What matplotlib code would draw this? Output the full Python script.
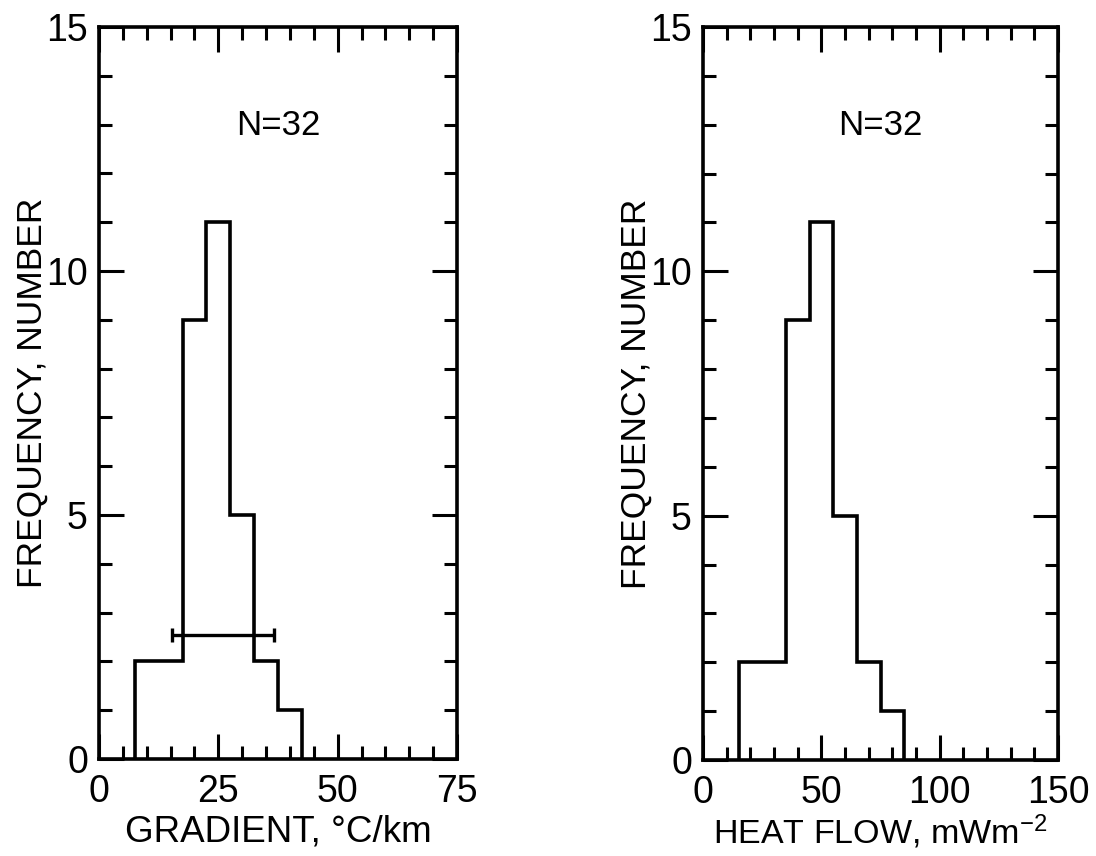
import matplotlib
matplotlib.use("Agg")
import matplotlib.pyplot as plt
from matplotlib.ticker import MultipleLocator

plt.rcParams['font.family'] = ['Liberation Sans', 'DejaVu Sans']
plt.rcParams['mathtext.default'] = 'regular'

# gradient histogram (deg C / km)
grad_edges = [7.5, 12.5, 17.5, 22.5, 27.5, 32.5, 37.5, 42.5]
grad_counts = [2, 2, 9, 11, 5, 2, 1]
grad_mean = 26.0
grad_sd = 10.7
grad_bar_y = 2.55

# heat flow histogram (mW m^-2)
hf_edges = [15, 25, 35, 45, 55, 65, 75, 85]
hf_counts = [2, 2, 9, 11, 5, 2, 1]

n_label = 'N=32'

LW = 2.6


def style(ax, xmax, xmajor, xminor):
    ax.set_xlim(0, xmax)
    ax.set_ylim(0, 15)
    ax.xaxis.set_major_locator(MultipleLocator(xmajor))
    ax.xaxis.set_minor_locator(MultipleLocator(xminor))
    ax.yaxis.set_major_locator(MultipleLocator(5))
    ax.yaxis.set_minor_locator(MultipleLocator(1))
    ax.tick_params(which='both', direction='in', top=True, right=True,
                   width=2.2, color='k', labelsize=27)
    ax.tick_params(which='major', length=18)
    ax.tick_params(which='minor', length=9.5)
    ax.tick_params(axis='x', pad=11)
    ax.tick_params(axis='y', pad=8)
    for s in ax.spines.values():
        s.set_linewidth(LW)
    ax.text(0.5, 0.8525, n_label, transform=ax.transAxes, ha='center',
            va='baseline', fontsize=25)


fig = plt.figure(figsize=(10.96, 8.56), dpi=100)
ax1 = fig.add_axes([99 / 1096, 1 - 759 / 856, 358 / 1096, 732 / 856])
ax2 = fig.add_axes([703 / 1096, 1 - 760 / 856, 355 / 1096, 733 / 856])

# left: gradient
ax1.stairs(grad_counts, grad_edges, color='k', lw=LW, baseline=0)
ax1.errorbar(grad_mean, grad_bar_y, xerr=grad_sd, fmt='none', ecolor='k',
             elinewidth=2.4, capsize=5, capthick=2.4)
style(ax1, 75, 25, 5)
ax1.set_xlabel('GRADIENT, °C/km', fontsize=26.5, va='baseline')
ax1.xaxis.set_label_coords(0.5, (759 - 842) / 732)
ax1.set_ylabel('FREQUENCY, NUMBER', fontsize=25.5, va='baseline')
ax1.yaxis.set_label_coords((42 - 99) / 358, 0.5)

# right: heat flow
ax2.stairs(hf_counts, hf_edges, color='k', lw=LW, baseline=0)
style(ax2, 150, 50, 10)
ax2.set_xlabel('HEAT FLOW, mWm$^{-2}$', fontsize=24.5, va='baseline')
ax2.xaxis.set_label_coords(0.5, (759 - 842) / 732)
ax2.set_ylabel('FREQUENCY, NUMBER', fontsize=25.5, va='baseline')
ax2.yaxis.set_label_coords((646 - 703) / 355, 0.5)

fig.savefig('out.png', dpi=100)
